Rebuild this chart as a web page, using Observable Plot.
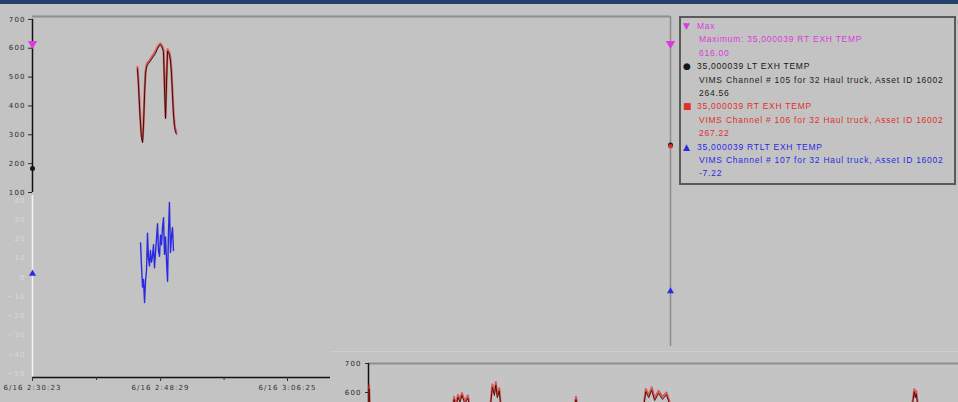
<!DOCTYPE html>
<html>
<head>
<meta charset="utf-8">
<script src="https://cdn.jsdelivr.net/npm/d3@7"></script>
<script src="https://cdn.jsdelivr.net/npm/@observablehq/plot@0.6"></script>
<style>
  html, body { margin: 0; padding: 0; background: #c3c3c3; }
  #chart { position: relative; width: 958px; height: 402px; overflow: hidden; background: #c3c3c3; }
  #band { position: absolute; left: 0; top: 0; width: 958px; height: 4px; background: #233f6e; }
  #chart svg text { letter-spacing: 1.1px; }
  #legend {
    position: absolute; left: 679px; top: 16px; width: 277px; height: 169px;
    box-sizing: border-box; border: 2px solid #5a5a5a; padding-top: 2px;
    font-family: "Liberation Sans", Arial, sans-serif; font-size: 8.5px;
    line-height: 13.4px; letter-spacing: 0.75px; white-space: nowrap;
  }
  #legend .row { position: relative; height: 13.4px; padding-left: 18px; }
  #legend .row.head { padding-left: 16px; }
  #legend .mk { position: absolute; left: 2px; top: 0; font-family: "DejaVu Sans", sans-serif; font-size: 9px; letter-spacing: 0; }
</style>
</head>
<body>
<div id="chart"><div id="band"></div></div>
<script>
// ---- time axis -------------------------------------------------------------
const startTime = "02:30:23";
const cursorTime = "04:00:32";
const majorTicks = ["02:30:23", "02:48:29", "03:06:25"];
const minorTicks = ["02:39:26", "02:57:27"];

// ---- exhaust temperatures (upper panel) -----------------------------------
const lineTimes = [
  "02:45:13","02:45:22","02:45:30","02:45:39","02:45:47","02:45:56","02:46:04","02:46:13",
  "02:46:21","02:46:30","02:46:38","02:46:46","02:46:55","02:47:03","02:47:12","02:47:20",
  "02:47:29","02:47:37","02:47:46","02:47:54","02:48:03","02:48:11","02:48:20","02:48:28",
  "02:48:37","02:48:45","02:48:54","02:49:02","02:49:11","02:49:19","02:49:28","02:49:36",
  "02:49:44","02:49:53","02:50:01","02:50:10","02:50:18","02:50:27","02:50:35","02:50:44"
];
const ltTemps = [
  528, 470, 400, 335, 290, 272, 330, 440, 510, 535, 542, 546, 552, 556, 562, 566,
  572, 576, 582, 590, 598, 604, 610, 612, 606, 598, 588, 470, 355, 480, 590, 584,
  578, 556, 515, 440, 372, 328, 310, 302
];
const rtTemps = [
  535, 478, 408, 342, 298, 280, 338, 448, 518, 542, 550, 553, 558, 562, 569, 573,
  579, 584, 590, 597, 604, 609, 614, 616, 611, 604, 594, 478, 362, 488, 596, 590,
  584, 563, 522, 448, 380, 336, 318, 310
];

// ---- RT minus LT difference (lower panel) ---------------------------------
const diffTimes = [
  "02:45:39","02:45:47","02:45:56","02:46:04","02:46:13","02:46:21","02:46:30","02:46:38",
  "02:46:46","02:46:55","02:47:03","02:47:12","02:47:20","02:47:29","02:47:37","02:47:46",
  "02:47:54","02:48:03","02:48:11","02:48:20","02:48:28","02:48:37","02:48:45","02:48:54",
  "02:49:02","02:49:11","02:49:19","02:49:28","02:49:36","02:49:44","02:49:53","02:50:01",
  "02:50:10","02:50:18"
];
const diffValues = [
  18, 6, -5, -1, -13, -2, 4, 23, 10, 6, 14, 8, 11, 17, 5, 13,
  20, 28, 14, 11, 22, 17, 26, 31, 12, 21, 9, -2, 24, 39, 13, 21,
  26, 14
];

// ---- scales' tick values ---------------------------------------------------
const upperTicks = [100, 200, 300, 400, 500, 600, 700];
const lowerTicks = [40, 30, 20, 10, 0, -10, -20, -30, -40, -50];
const insetTicks = [600, 700];

// ---- values at the left edge and at the cursor ----------------------------
const startMax = 616.00;
const startLT = 183;
const startDiff = 2;
const seriesNames = ["Max", "35,000039 LT EXH TEMP", "35,000039 RT EXH TEMP", "35,000039 RTLT EXH TEMP"];
const seriesNotes = [
  "Maximum: 35,000039 RT EXH TEMP",
  "VIMS Channel # 105 for 32 Haul truck, Asset ID 16002",
  "VIMS Channel # 106 for 32 Haul truck, Asset ID 16002",
  "VIMS Channel # 107 for 32 Haul truck, Asset ID 16002"
];
const cursorValues = [616.00, 264.56, 267.22, -7.22];

// ---- overview strip (longer time span) ------------------------------------
const insetStart = "02:00:00";
const insetEnd = "12:00:00";
const insetTimes = [
  "02:00:00","02:00:40","02:01:30","03:25:00","03:27:00","03:29:00","03:31:00","03:33:00",
  "03:35:00","03:38:00","03:41:00","03:44:00","04:04:00","04:06:00","04:08:00","04:09:30",
  "04:11:00","04:13:00","04:15:00","05:29:00","05:31:00","05:33:00","06:40:00","06:42:00",
  "06:45:00","06:48:00","06:51:00","06:55:00","06:59:00","07:03:00","07:07:00","11:13:00",
  "11:15:00","11:16:00","11:17:00","11:19:00","12:00:00"
];
const insetRT = [
  540, 625, 540, 520, 585, 560, 592, 575, 598, 570, 590, 540, 560, 628, 600, 636,
  590, 615, 540, 540, 585, 540, 560, 612, 590, 618, 580, 606, 585, 600, 560, 560,
  612, 590, 605, 550, 520
];
const insetLT = [
  535, 612, 535, 515, 576, 552, 584, 566, 590, 562, 581, 532, 552, 618, 590, 626,
  582, 606, 532, 532, 576, 532, 552, 603, 582, 608, 572, 597, 576, 592, 552, 552,
  603, 582, 596, 542, 515
];

// ---- drawing -------------------------------------------------------------
const colors = { max: "#dc3adc", lt: "#161616", rt: "#e0302c", diff: "#2a2ae2" };
const at = s => new Date(`2005-06-16T${s}Z`);
const fmt = d3.utcFormat("%-m/%-d %-H:%M:%S");
const chart = document.getElementById("chart");
function place(node, left, top) {
  node.style.position = "absolute";
  node.style.left = left + "px";
  node.style.top = top + "px";
  chart.appendChild(node);
}
const baseStyle = { background: "transparent", overflow: "visible", fontFamily: "DejaVu Sans, sans-serif", fontSize: "7px" };
const xDomain = [at(startTime), at(cursorTime)];

const mainRows = lineTimes.map((t, i) => ({ t: at(t), lt: ltTemps[i], rt: rtTemps[i] }));
const diffRows = diffTimes.map((t, i) => ({ t: at(t), v: diffValues[i] }));

// cursor line through both panels
const cursor = Plot.plot({
  width: 958, height: 402,
  marginLeft: 32, marginRight: 288, marginTop: 16, marginBottom: 56,
  x: { type: "utc", domain: xDomain, axis: null },
  y: { domain: [0, 1], axis: null },
  style: baseStyle,
  marks: [Plot.ruleX([at(cursorTime)], { stroke: "#8a8a8a", strokeWidth: 1.5 })]
});
place(cursor, 0, 0);

// upper panel: LT / RT exhaust temperature
const upper = Plot.plot({
  width: 958, height: 402,
  marginLeft: 32, marginRight: 288, marginTop: 16, marginBottom: 210,
  x: { type: "utc", domain: xDomain, axis: null },
  y: { domain: [100, 710], axis: null },
  style: baseStyle,
  marks: [
    Plot.ruleY([710], { stroke: "#8e8e8e", strokeWidth: 2 }),
    Plot.ruleX([at(startTime)], { y1: 100, y2: 700, stroke: "#111", strokeWidth: 1.5 }),
    Plot.axisY(upperTicks, { anchor: "left", label: null, tickSize: 4, tickPadding: 3, fontSize: 7, color: "#2a2a2a" }),
    Plot.line(mainRows, { x: "t", y: "rt", stroke: colors.rt, strokeWidth: 2.2, strokeOpacity: 0.7 }),
    Plot.line(mainRows, { x: "t", y: "lt", stroke: "#3a0e0e", strokeWidth: 1 }),
    Plot.dot([{ t: at(startTime), v: startMax }, { t: at(cursorTime), v: cursorValues[0] }],
      { x: "t", y: "v", symbol: "triangle", rotate: 180, r: 3.5, fill: colors.max, stroke: null }),
    Plot.dot([{ t: at(startTime), v: startLT }, { t: at(cursorTime), v: cursorValues[1] }],
      { x: "t", y: "v", symbol: "circle", r: 2.5, fill: colors.lt, stroke: null }),
    Plot.dot([{ t: at(cursorTime), v: cursorValues[2] }],
      { x: "t", y: "v", symbol: "square", r: 2.2, fill: colors.rt, stroke: null, dy: 2 })
  ]
});
place(upper, 0, 0);

// lower panel: RT - LT difference
const lower = Plot.plot({
  width: 958, height: 402,
  marginLeft: 32, marginRight: 288, marginTop: 195, marginBottom: 25,
  x: { type: "utc", domain: xDomain, axis: null },
  y: { domain: [-52, 42.6], axis: null },
  style: baseStyle,
  marks: [
    Plot.ruleX([at(startTime)], { stroke: "#f2f2f2", strokeWidth: 1.5 }),
    Plot.axisY(lowerTicks, { anchor: "left", label: null, tickSize: 0, tickPadding: 7, fontSize: 7, color: "#dadada" }),
    Plot.ruleY([-52], { stroke: "#111", strokeWidth: 1.5 }),
    Plot.axisX(majorTicks.map(at), { anchor: "bottom", label: null, tickSize: 4, tickPadding: 4, fontSize: 7, color: "#333", tickFormat: fmt }),
    Plot.axisX(minorTicks.map(at), { anchor: "bottom", label: null, tickSize: 3, tickFormat: () => "", color: "#333" }),
    Plot.line(diffRows, { x: "t", y: "v", stroke: colors.diff, strokeWidth: 1.4 }),
    Plot.dot([{ t: at(startTime), v: startDiff }, { t: at(cursorTime), v: cursorValues[3] }],
      { x: "t", y: "v", symbol: "triangle", r: 2.6, fill: colors.diff, stroke: null })
  ]
});
place(lower, 0, 0);

// legend with the values at the cursor
const legend = document.createElement("div");
legend.id = "legend";
const marks = ["\u25BC", "\u25CF", "\u25A0", "\u25B2"];
const legendColors = [colors.max, colors.lt, colors.rt, colors.diff];
seriesNames.forEach((name, i) => {
  const c = legendColors[i];
  legend.insertAdjacentHTML("beforeend",
    `<div class="row head" style="color:${c}"><span class="mk">${marks[i]}</span>${name}</div>` +
    `<div class="row" style="color:${i === 1 ? "#222" : c}">${seriesNotes[i]}</div>` +
    `<div class="row" style="color:${i === 1 ? "#222" : c}">${cursorValues[i].toFixed(2)}</div>`);
});
chart.appendChild(legend);

// overview strip in the lower right
const insetRows = insetTimes.map((t, i) => ({ t: at(t), lt: insetLT[i], rt: insetRT[i] }));
const inset = Plot.plot({
  width: 628, height: 50,
  marginLeft: 38, marginRight: 0, marginTop: 11, marginBottom: 0,
  x: { type: "utc", domain: [at(insetStart), at(insetEnd)], axis: null },
  y: { domain: [565.5, 700], axis: null },
  style: { ...baseStyle, background: "#c4c4c4" },
  marks: [
    Plot.ruleY([700], { stroke: "#8e8e8e", strokeWidth: 2 }),
    Plot.ruleX([at(insetStart)], { stroke: "#111", strokeWidth: 1.5 }),
    Plot.axisY(insetTicks, { anchor: "left", label: null, tickSize: 3, tickPadding: 4, fontSize: 7, color: "#2a2a2a" }),
    Plot.line(insetRows, { x: "t", y: "rt", stroke: colors.rt, strokeWidth: 2, strokeOpacity: 0.7, clip: true }),
    Plot.line(insetRows, { x: "t", y: "lt", stroke: "#5a1010", strokeWidth: 1, clip: true })
  ]
});
inset.style.borderTop = "1px solid #cecece";
place(inset, 330, 351);
</script>
</body>
</html>
